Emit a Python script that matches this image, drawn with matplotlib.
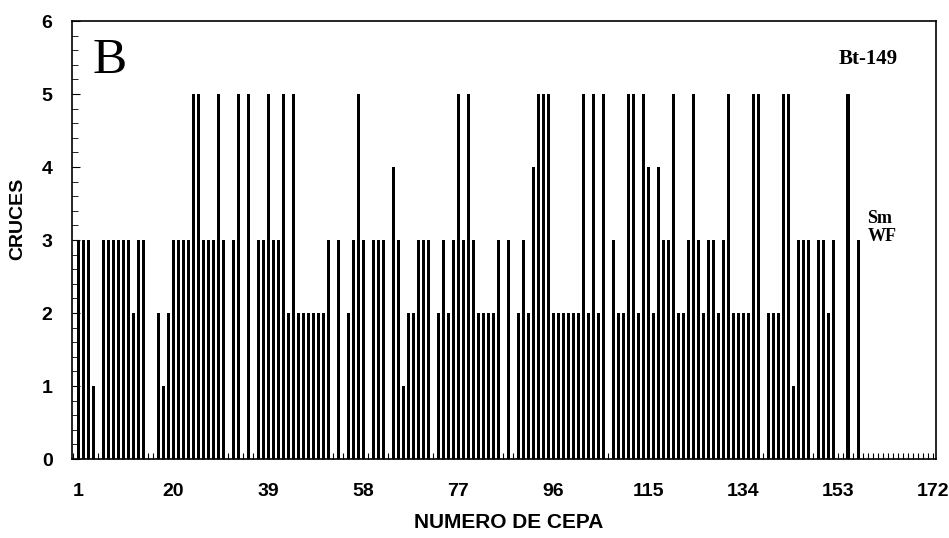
"""Cruces por cepa (panel B, Bt-149) - bar chart recreation."""

import matplotlib
matplotlib.use("Agg")
import matplotlib.pyplot as plt
import numpy as np
from matplotlib.ticker import MultipleLocator

# ─── Data ────────────────────────────────────────────────────────────────────

strains = np.arange(1, 173)

crosses = [
    3, 3, 3, 1, 0, 3, 3, 3, 3, 3,       # 1-10
    3, 2, 3, 3, 0, 0, 2, 1, 2, 3,       # 11-20
    3, 3, 3, 5, 5, 3, 3, 3, 5, 3,       # 21-30
    0, 3, 5, 0, 5, 0, 3, 3, 5, 3,       # 31-40
    3, 5, 2, 5, 2, 2, 2, 2, 2, 2,       # 41-50
    3, 0, 3, 0, 2, 3, 5, 3, 0, 3,       # 51-60
    3, 3, 0, 4, 3, 1, 2, 2, 3, 3,       # 61-70
    3, 0, 2, 3, 2, 3, 5, 3, 5, 3,       # 71-80
    2, 2, 2, 2, 3, 0, 3, 0, 2, 3,       # 81-90
    2, 4, 5, 5, 5, 2, 2, 2, 2, 2,       # 91-100
    2, 5, 2, 5, 2, 5, 0, 3, 2, 2,       # 101-110
    5, 5, 2, 5, 4, 2, 4, 3, 3, 5,       # 111-120
    2, 2, 3, 5, 3, 2, 3, 3, 2, 3,       # 121-130
    5, 2, 2, 2, 2, 5, 5, 0, 2, 2,       # 131-140
    2, 5, 5, 1, 3, 3, 3, 0, 3, 3,       # 141-150
    2, 3, 0, 0, 5, 0, 3, 0, 0, 0,       # 151-160
    0, 0, 0, 0, 0, 0, 0, 0, 0, 0,       # 161-170
    0, 0,                               # 171-172
]

x_ticks = [1, 20, 39, 58, 77, 96, 115, 134, 153, 172]
y_ticks = [0, 1, 2, 3, 4, 5, 6]

CONTROL_STRAIN = 155   # drawn with a heavier bar
MARKED_STRAIN = 157    # labelled "Sm WF"

SANS = ["Liberation Sans", "DejaVu Sans"]
SERIF = ["Liberation Serif", "DejaVu Serif"]


def main() -> None:
    fig = plt.figure(figsize=(9.49, 5.38), dpi=100)
    ax = fig.add_axes([0.0759, 0.1468, 0.9104, 0.8141])

    widths = np.where(strains == CONTROL_STRAIN, 0.9, 0.6)
    ax.bar(strains, crosses, width=widths, color="black", align="center")

    ax.set_xlim(-0.2, 172.6)
    ax.set_ylim(0, 6)

    ax.set_xticks(x_ticks)
    ax.set_xticklabels([str(t) for t in x_ticks], family=SANS,
                       fontweight="bold", fontsize=14)
    ax.xaxis.set_minor_locator(MultipleLocator(1))
    ax.tick_params(axis="x", which="major", direction="in", length=4, pad=17)
    ax.tick_params(axis="x", which="minor", direction="in", length=4,
                   width=0.8)

    ax.set_yticks(y_ticks)
    ax.set_yticklabels([str(t) for t in y_ticks], family=SANS,
                       fontweight="bold", fontsize=14)
    ax.yaxis.set_minor_locator(MultipleLocator(0.2))
    ax.tick_params(axis="y", which="major", direction="in", length=6, pad=14)
    ax.tick_params(axis="y", which="minor", direction="in", length=4)

    for side in ("top", "right", "bottom", "left"):
        ax.spines[side].set_linewidth(1.2)

    fig.text(509 / 949, 1 - 523 / 538, "NUMERO DE CEPA", family=SANS,
             fontweight="bold", fontsize=15, ha="center", va="center")
    fig.text(18 / 949, 1 - 219 / 538, "CRUCES", family=SANS,
             fontweight="bold", fontsize=14, rotation=90,
             ha="center", va="center")

    ax.text(0.0243, 0.963, "B", transform=ax.transAxes, family=SERIF,
            fontsize=37, va="top", ha="left")
    ax.text(0.887, 0.936, "Bt-149", transform=ax.transAxes, family=SERIF,
            fontweight="bold", fontsize=15, va="top", ha="left")
    ax.text(MARKED_STRAIN + 1.9, 2.93, "Sm\nWF",
            family=SERIF, fontweight="bold", fontsize=13, va="bottom",
            ha="left", linespacing=1.05)

    fig.savefig("out.png", dpi=100)
    plt.close(fig)


if __name__ == "__main__":
    main()
